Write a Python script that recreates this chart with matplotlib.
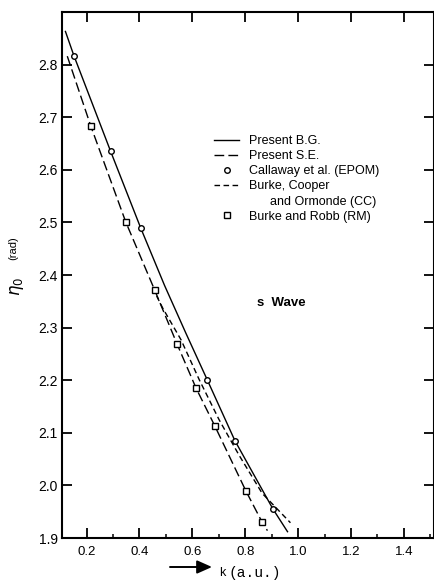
import matplotlib
matplotlib.use("Agg")
import matplotlib.pyplot as plt
from matplotlib.lines import Line2D
from matplotlib.ticker import MultipleLocator, FixedLocator

# s-wave phase shift eta_0 (rad) against k (a.u.)
bg_k = [0.12, 0.152, 0.291, 0.405, 0.495, 0.575, 0.657, 0.761, 0.905, 0.96]
bg_eta = [2.863, 2.817, 2.635, 2.489, 2.380, 2.290, 2.200, 2.085, 1.955, 1.912]

se_k = [0.127, 0.216, 0.348, 0.457, 0.542, 0.614, 0.686, 0.803, 0.863, 0.884]
se_eta = [2.816, 2.683, 2.501, 2.372, 2.269, 2.185, 2.112, 1.989, 1.931, 1.914]

cc_k = [0.465, 0.488, 0.557, 0.626, 0.701, 0.776, 0.864, 0.971]
cc_eta = [2.360, 2.337, 2.277, 2.201, 2.125, 2.058, 1.985, 1.929]

epom_k = [0.152, 0.291, 0.405, 0.657, 0.761, 0.905]
epom_eta = [2.817, 2.635, 2.489, 2.200, 2.085, 1.955]

rm_k = [0.216, 0.348, 0.457, 0.542, 0.614, 0.686, 0.803, 0.863]
rm_eta = [2.683, 2.501, 2.372, 2.269, 2.185, 2.112, 1.989, 1.931]

x_ticks = [0.2, 0.4, 0.6, 0.8, 1.0, 1.2, 1.4]
y_ticks = [1.9, 2.0, 2.1, 2.2, 2.3, 2.4, 2.5, 2.6, 2.7, 2.8]

SANS = "Liberation Sans"

fig = plt.figure(figsize=(4.35, 5.81), dpi=100)
ax = fig.add_axes([62 / 435, 43 / 581, 372 / 435, 526 / 581])

l_bg, = ax.plot(bg_k, bg_eta, color="k", lw=1.0, label="Present B.G.")
l_se, = ax.plot(se_k, se_eta, color="k", lw=1.0, dashes=(7, 3),
                label="Present S.E.")
l_epom, = ax.plot(epom_k, epom_eta, ls="none", marker="o", ms=4,
                  mfc="white", mec="k", mew=1.0,
                  label="Callaway et al. (EPOM)")
l_cc, = ax.plot(cc_k, cc_eta, color="k", lw=1.0, dashes=(4, 2.5),
                label="Burke, Cooper")
l_rm, = ax.plot(rm_k, rm_eta, ls="none", marker="s", ms=3.8,
                mfc="white", mec="k", mew=1.0, label="Burke and Robb (RM)")

# second line of the CC label, no handle of its own
blank = Line2D([], [], ls="none", label="      and Ormonde (CC)")

ax.set_xlim(0.107, 1.514)
ax.set_ylim(1.9, 2.9)

ax.xaxis.set_major_locator(FixedLocator(x_ticks))
ax.xaxis.set_minor_locator(MultipleLocator(0.1))
ax.yaxis.set_major_locator(FixedLocator(y_ticks))
ax.set_xticklabels([f"{v:.1f}" for v in x_ticks], fontsize=9.5, family=SANS)
ax.set_yticklabels([f"{v:.1f}" for v in y_ticks], fontsize=10, family=SANS)

ax.tick_params(which="major", direction="in", length=7, width=1.3,
               top=True, right=True)
ax.tick_params(which="minor", direction="in", length=3, width=1.1,
               top=False, right=False)
ax.tick_params(axis="x", pad=6)
ax.tick_params(axis="y", pad=3)
for s in ax.spines.values():
    s.set_linewidth(1.5)

leg = ax.legend(handles=[l_bg, l_se, l_epom, l_cc, blank, l_rm],
                loc="upper left", bbox_to_anchor=(0.392, 0.778),
                frameon=False, borderpad=0, handlelength=2.0,
                handletextpad=0.8, labelspacing=0.25,
                prop={"family": SANS, "size": 9})

ax.text(0.525, 0.447, "s  Wave", transform=ax.transAxes, fontsize=9.5,
        fontweight="bold", family=SANS, ha="left", va="center")

# y label: eta_0 with a smaller "(rad)"
fig.text(17 / 435, 1 - 286 / 581, r"$\eta_0$", rotation=90, fontsize=12,
         ha="center", va="center")
fig.text(13 / 435, 1 - 248 / 581, "(rad)", rotation=90, fontsize=8,
         family=SANS, ha="center", va="center")

# x label with arrow
ax.annotate("", xy=(212 / 435, 14 / 581), xytext=(170 / 435, 14 / 581),
            xycoords="figure fraction", textcoords="figure fraction",
            arrowprops=dict(arrowstyle="-|>,head_length=0.9,head_width=0.4",
                            lw=1.4, color="k", shrinkA=0, shrinkB=0))
fig.text(219 / 435, 8 / 581, "k", fontsize=9, family=SANS,
         ha="left", va="center")
fig.text(229 / 435, 8 / 581, "(a.u.)", fontsize=10.5,
         family="Liberation Mono", ha="left", va="center")

fig.savefig("out.png", dpi=100)
